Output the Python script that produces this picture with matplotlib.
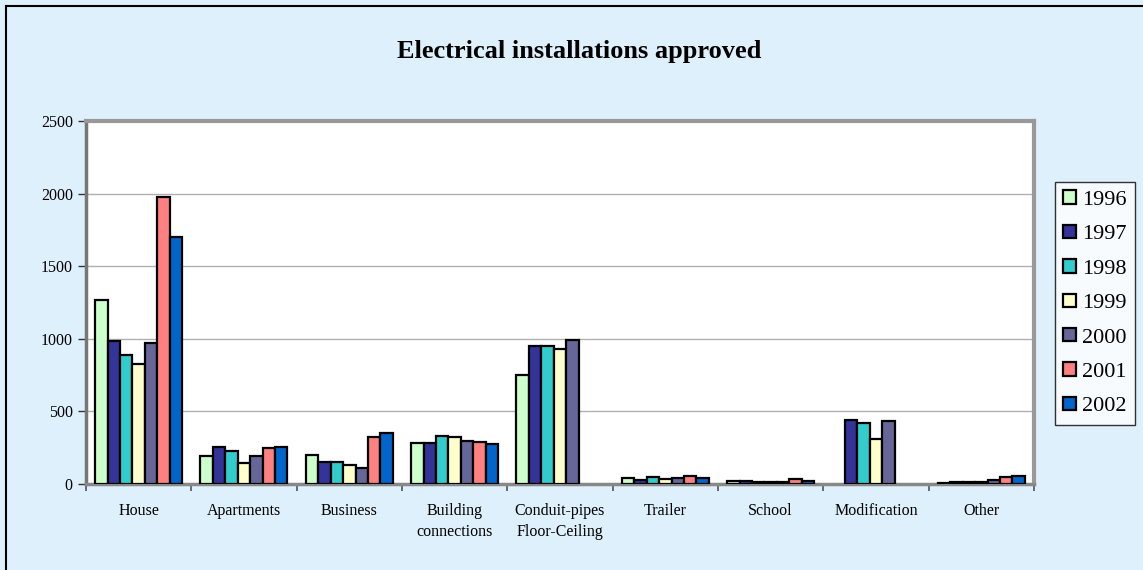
import numpy as np
import matplotlib.pyplot as plt
from matplotlib.lines import Line2D
from matplotlib.patches import Patch

plt.rcParams['font.family'] = ['Liberation Serif', 'DejaVu Serif']

categories = ['House', 'Apartments', 'Business', 'Building\nconnections',
              'Conduit-pipes\nFloor-Ceiling', 'Trailer', 'School', 'Modification', 'Other']
years = ['1996', '1997', '1998', '1999', '2000', '2001', '2002']

v1996 = [1265, 193, 200, 285, 748, 39, 20, 0, 8]
v1997 = [987, 257, 149, 280, 953, 28, 18, 441, 14]
v1998 = [890, 227, 154, 330, 953, 46, 12, 422, 14]
v1999 = [826, 142, 133, 326, 930, 32, 12, 310, 15]
v2000 = [971, 195, 112, 296, 990, 39, 14, 434, 28]
v2001 = [1980, 250, 326, 292, 0, 55, 34, 0, 50]
v2002 = [1700, 255, 353, 275, 0, 39, 18, 0, 55]

values = [v1996, v1997, v1998, v1999, v2000, v2001, v2002]
colors = ['#CCFFCC', '#333399', '#33CCCC', '#FFFFCC', '#666699', '#FF8080', '#0066CC']

bg = '#DEF0FC'
fig = plt.figure(figsize=(11.43, 5.70), dpi=100, facecolor=bg)
ax = fig.add_axes([0.0752, 0.1509, 0.8294, 0.6368])
ax.set_facecolor('white')

x = np.arange(len(categories))
w = 0.118
for i, (vals, c) in enumerate(zip(values, colors)):
    bars = ax.bar(x + (i - 3) * w, vals, w, color=c, edgecolor='black', linewidth=1.6,
                  label=years[i], zorder=3)
    # empty cells draw nothing
    for b, v in zip(bars, vals):
        if v == 0:
            b.set_visible(False)

ax.set_xlim(-0.5, len(categories) - 0.5)
ax.set_ylim(0, 2500)
ax.set_yticks(range(0, 2501, 500))
ax.yaxis.grid(True, color='#B0B0B0', linewidth=1)
ax.set_axisbelow(True)

ax.set_xticks(x)
ax.set_xticklabels(categories, fontsize=11.5, linespacing=1.35)
ax.set_xticks(np.arange(-0.5, len(categories)), minor=True)
ax.tick_params(axis='x', which='major', length=0, pad=14)
ax.tick_params(axis='x', which='minor', length=5, direction='out', color='#555555', width=1.2)
ax.tick_params(axis='y', labelsize=11.5, length=6, color='#333333', width=1)

ax.spines['left'].set_color('#777777')
ax.spines['left'].set_linewidth(2.5)
ax.spines['bottom'].set_color('#888888')
ax.spines['bottom'].set_linewidth(2.5)
ax.spines['top'].set_color('#999999')
ax.spines['top'].set_linewidth(3)
ax.spines['right'].set_color('#999999')
ax.spines['right'].set_linewidth(3)

fig.text(0.507, 0.91, 'Electrical installations approved', ha='center', va='center',
         fontsize=19, fontweight='bold')

handles = [Patch(facecolor=c, edgecolor='black', linewidth=1.6) for c in colors]
leg = fig.legend(handles, years, loc='upper left', bbox_to_anchor=(0.923, 0.681),
                 fontsize=16, frameon=True, fancybox=False, edgecolor='black',
                 handlelength=0.55, handleheight=0.55, handletextpad=0.3,
                 labelspacing=0.67, borderpad=0.38, borderaxespad=0)
leg.get_frame().set_linewidth(1)

# outer border (left and top)
fig.add_artist(Line2D([0.0055, 0.0055], [0, 0.99], transform=fig.transFigure, color='black', lw=1.5))
fig.add_artist(Line2D([0.0055, 1], [0.99, 0.99], transform=fig.transFigure, color='black', lw=1.5))

fig.savefig('out.png', dpi=100, facecolor=bg)
